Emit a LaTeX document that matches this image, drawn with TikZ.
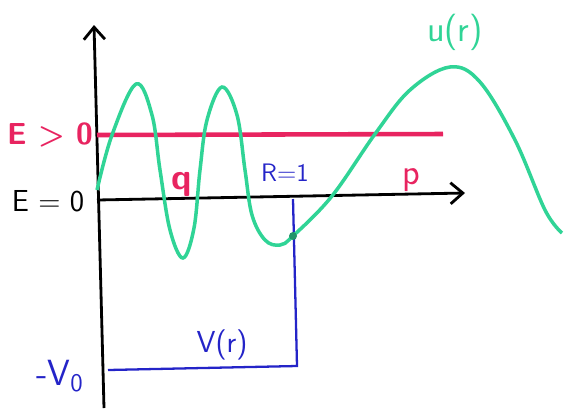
\documentclass[tikz,border=0pt]{standalone}
\usetikzlibrary{arrows.meta}
\begin{document}
\begin{tikzpicture}[x=0.02cm,y=-0.02cm,font=\sffamily]
    	\def\wave{plot[smooth,tension=0.6] coordinates {(97,190) (112,135) (136,84) (152,115) (160,170) (170,230) (183,258) (194,228) (200,170) (207,120) (222,87) (237,115) (245,170) (252,215) (265,240) (280,245) (293,236) (332,196) (375,134) (410,90) (450,67) (480,82) (515,140) (545,210) (562,233)}} %u(r)
    
    	\definecolor{wave line}{RGB}{48,212,150}
    	\definecolor{energy line}{RGB}{232,36,96}
    	\definecolor{pot line}{RGB}{36,36,200}
    
    	\tikzset{
    		axis/.style={draw=black, line width=1.6pt, -{Straight Barb[length=7pt,width=12pt]}},
    		wave/.style={draw=wave line, line width=2pt},
    		energy/.style={draw=energy line, line width=2.6pt},
    		pot/.style={draw=pot line, line width=1.3pt},
    	}
    
    	\useasboundingbox (0,0) rectangle (565,414);
    	\coordinate (O) at (97,200);
    	\coordinate (ytop) at (94,25);
    	\coordinate (ybot) at (104,408);
    	\coordinate (xend) at (465,193);
    	\coordinate (El) at (97,135);
    	\coordinate (Er) at (443,134);
    	\coordinate (Rtop) at (293,199);
    	\coordinate (Rbot) at (297,366);
    	\coordinate (Vl) at (108,370);
    
    	\draw[axis] (ybot) -- (ytop); 
    	\draw[axis] (O) -- (xend); 
    	\draw[energy] (El) -- (Er); 
    	\draw[pot] (Rtop) -- (Rbot) -- (Vl); 
    	\draw[wave] \wave;
    	\fill[wave line!70!black] (293,236) circle (4); 
    
    	\node[text=energy line, font=\sffamily\LARGE\bfseries] (Epos) at (50,135) {E > 0}; 
    	\node[font=\sffamily\LARGE] (Ezero) at (48,201) {E = 0}; 
    	\node[text=wave line, font=\sffamily\huge] (ulabel) at (455,32) {u(r)}; 
    	\node[text=pot line, font=\sffamily\Large] (Rlabel) at (285,173) {R=1}; 
    	\node[text=energy line, font=\sffamily\huge] (plabel) at (411,180) {p}; 
    	\node[text=energy line, font=\sffamily\huge\bfseries] (qlabel) at (182,184) {q}; 
    	\node[text=pot line, font=\sffamily\LARGE] (Vlabel) at (222,345) {V(r)}; 
    	\node[text=pot line, font=\sffamily\huge] (V0label) at (60,376) {-V\textsubscript{0}}; 
\end{tikzpicture}
\end{document}
